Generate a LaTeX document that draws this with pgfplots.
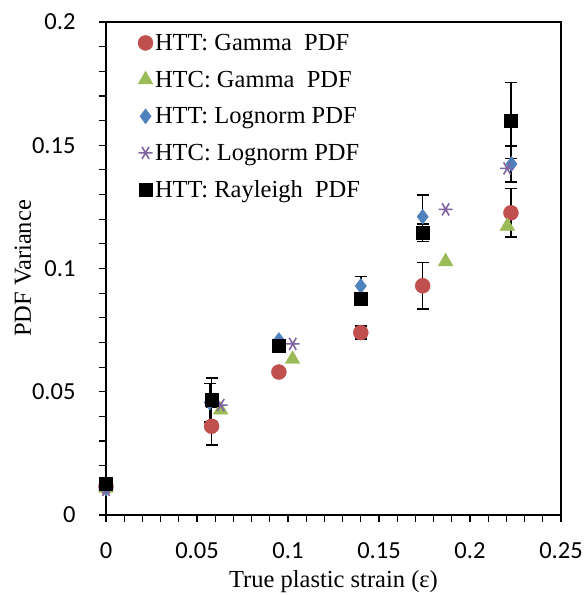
\documentclass[border=0pt]{standalone}
\usepackage{pgfplots}
\pgfplotsset{compat=1.18}
\usepackage{fontspec}
\setmainfont{Liberation Serif}
\newfontfamily\carlito{Carlito}
\definecolor{cRed}{HTML}{C0504D}
\definecolor{cGreen}{HTML}{9BBB59}
\definecolor{cBlue}{HTML}{4F81BD}
\definecolor{cPurple}{HTML}{8064A2}
\begin{document}
\begin{tikzpicture}
\useasboundingbox (-106pt,-80pt) rectangle (481pt,515pt);
\begin{axis}[
  at={(0,0)}, anchor=south west,
  scale only axis, width=455pt, height=493pt,
  xmin=0, xmax=0.25, ymin=0, ymax=0.2,
  clip=false,
  axis line style={line width=1.6pt},
  xtick={0,0.05,0.1,0.15,0.2,0.25},
  xticklabels={0,0.05,0.1,0.15,0.2,0.25},
  ytick={0,0.05,0.1,0.15,0.2},
  yticklabels={0,0.05,0.1,0.15,0.2},
  minor x tick num=4, minor y tick num=4,
  tick align=outside, tick pos=left,
  major tick length=7pt, minor tick length=7pt,
  every tick/.style={black, line width=1.2pt},
  /pgf/number format/assume math mode=true,
  ticklabel style={font=\fontsize{24.5}{24.5}\selectfont\carlito},
  xticklabel style={anchor=center, yshift=-29pt},
  yticklabel style={anchor=east, xshift=-20pt},
  xlabel={True plastic strain (ε)},
  ylabel={PDF Variance},
  label style={font=\fontsize{24.5}{24.5}\selectfont},
  xlabel style={anchor=center, at={(rel axis cs:0.5,0)}, yshift=-67pt},
  ylabel style={anchor=center, at={(rel axis cs:0,0.5)}, yshift=83pt},
  legend style={draw=none, fill=none, at={(0.07,0.98)}, anchor=north west,
    font=\fontsize{24.5}{24.5}\selectfont, row sep=15pt, inner sep=0pt,
    /tikz/every even column/.append style={column sep=2pt}},
  legend cell align=left,
]
% error bars (drawn first)
\addplot[forget plot, draw=none, mark=none, black,
  error bars/.cd, y dir=both, y explicit,
  error bar style={line width=1.6pt, black},
  error mark options={rotate=90, mark size=6pt, line width=1.6pt, black}]
  coordinates {
  (0.058,0.036) +- (0,0.0077)
  (0.140,0.074) +- (0,0.0027)
  (0.174,0.093) +- (0,0.0095)
  (0.2225,0.1226) +- (0,0.0098)
  (0.057,0.0456) +- (0,0.0078)
  (0.140,0.0929) +- (0,0.0038)
  (0.174,0.121) +- (0,0.0088)
  (0.2225,0.1424) +- (0,0.0073)
  (0.058,0.0467) +- (0,0.0088)
  (0.174,0.1145) +- (0,0.0035)
  (0.2225,0.160) +- (0,0.0154)
  };
\addplot[only marks, mark=*, mark size=7.5pt, color=cRed, mark options={draw=cRed, fill=cRed}]
  coordinates {(0,0.0115) (0.058,0.036) (0.095,0.058) (0.140,0.074) (0.174,0.093) (0.2225,0.1226)};
\addlegendentry{HTT: Gamma\ \ PDF}
\addplot[only marks, mark=triangle*, mark size=8.5pt, color=cGreen, mark options={draw=cGreen, fill=cGreen}]
  coordinates {(0,0.011) (0.063,0.0426) (0.1025,0.0632) (0.1866,0.1028) (0.2205,0.1172)};
\addlegendentry{HTC: Gamma\ \ PDF}
\addplot[only marks, mark=diamond*, mark size=7.5pt, color=cBlue, mark options={draw=cBlue, fill=cBlue}]
  coordinates {(0,0.0108) (0.057,0.0456) (0.095,0.071) (0.140,0.0929) (0.174,0.121) (0.2228,0.1424)};
\addlegendentry{HTT: Lognorm PDF}
\addplot[only marks, mark=asterisk, mark size=7pt, color=cPurple, mark options={draw=cPurple, line width=1.6pt, rotate=90}]
  coordinates {(0,0.0102) (0.063,0.0446) (0.1026,0.0694) (0.1866,0.124) (0.2204,0.1406)};
\addlegendentry{HTC: Lognorm PDF}
\addplot[only marks, mark=square*, mark size=6.5pt, color=black, mark options={draw=black, fill=black}]
  coordinates {(0,0.0126) (0.058,0.0467) (0.095,0.0687) (0.140,0.0876) (0.174,0.1145) (0.2225,0.160)};
\addlegendentry{HTT: Rayleigh\ \ PDF}
\end{axis}
\end{tikzpicture}
\end{document}
